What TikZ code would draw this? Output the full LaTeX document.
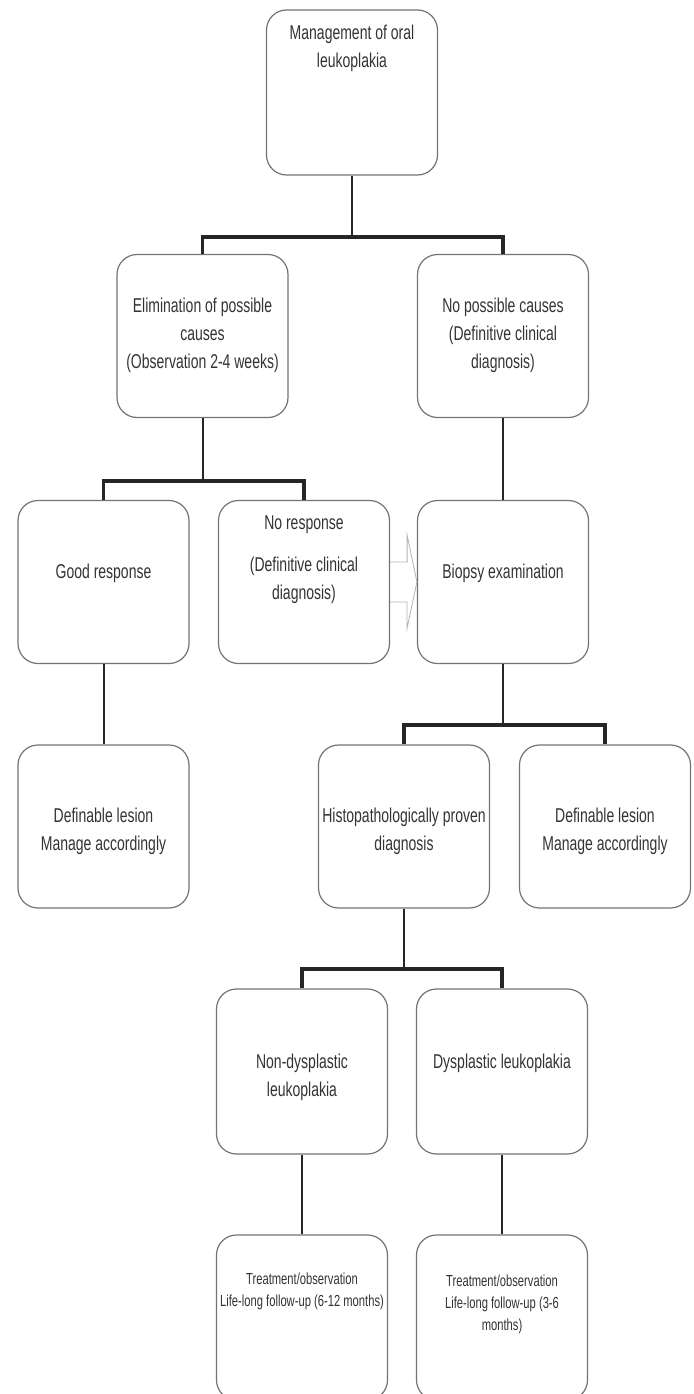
\documentclass[tikz,border=0pt]{standalone}
\usepackage{fontspec}
\setmainfont{Liberation Sans}[FakeStretch=0.7]
\usetikzlibrary{calc}

\tikzset{
  box/.style={draw=black!55, line width=1.2pt, rounded corners=20pt,
    minimum width=171pt, minimum height=163pt, inner sep=0pt},
  txt/.style={text=black!80, align=center, inner sep=0pt,
    font=\fontsize{20}{28}\selectfont},
  smalltxt/.style={txt, font=\fontsize{16}{22}\selectfont},
  stem/.style={draw=black!85, line width=2pt},
  bar/.style={draw=black!85, line width=3.2pt},
  hollow/.style={draw=black!30, line width=0.8pt}
}

\begin{document}
\begin{tikzpicture}[x=1pt, y=-1pt]
		%%%%% START %%%%%
		\clip (0,0) rectangle (693,1394);

		% boxes
		\node[box, minimum height=165pt] (mgmt) at (352, 92.5) {};
		\node[box] (elim) at (202.5, 336) {};
		\node[box] (nocause) at (503, 336) {};

		\node[box] (good) at (103.5, 582) {};
		\node[box] (noresp) at (304, 582) {};
		\node[box] (biopsy) at (503, 582) {};

		\node[box] (def1) at (103.5, 826.5) {};
		\node[box] (histo) at (404, 826.5) {};
		\node[box] (def2) at (605, 826.5) {};

		\node[box, minimum height=165pt] (nondys) at (302, 1071.5) {};
		\node[box, minimum height=165pt] (dys) at (502, 1071.5) {};

		\node[box, minimum height=165pt] (treat1) at (302, 1317.5) {};
		\node[box, minimum height=165pt] (treat2) at (502, 1317.5) {};

		% texts
		\node[txt] (mgmt-t) at (352, 48) {Management of oral\\leukoplakia};
		\node[txt] (elim-t) at (202.5, 335) {Elimination of possible\\causes\\(Observation 2-4 weeks)};
		\node[txt] (nocause-t) at (503, 335) {No possible causes\\(Definitive clinical\\diagnosis)};
		\node[txt] (good-t) at (103.5, 573) {Good response};
		\node[txt] (noresp-t) at (304, 560) {No response\\[14pt](Definitive clinical\\diagnosis)};
		\node[txt] (biopsy-t) at (503, 573) {Biopsy examination};
		\node[txt] (def1-t) at (103.5, 831) {Definable lesion\\Manage accordingly};
		\node[txt] (histo-t) at (404, 831) {Histopathologically proven\\diagnosis};
		\node[txt] (def2-t) at (605, 831) {Definable lesion\\Manage accordingly};
		\node[txt] (nondys-t) at (302, 1077.5) {Non-dysplastic\\leukoplakia};
		\node[txt] (dys-t) at (502, 1063) {Dysplastic leukoplakia};
		\node[smalltxt] (treat1-t) at (302, 1291) {Treatment/observation\\Life-long follow-up (6-12 months)};
		\node[smalltxt] (treat2-t) at (502, 1304) {Treatment/observation\\Life-long follow-up (3-6\\months)};

		% junctions
		\coordinate (j1) at (352, 237);
		\coordinate (j2) at (202.5, 481);
		\coordinate (j3) at (503, 725);
		\coordinate (j4) at (404, 969);

		% connectors
		\draw[stem] (mgmt.south) -- (j1);
		\draw[bar] (elim.north) |- (j1) -| (nocause.north);

		\draw[stem] (elim.south) -- (j2);
		\draw[bar] (good.north) |- (j2) -| (noresp.north);

		\draw[stem] (nocause.south) -- (biopsy.north);
		\draw[stem] (good.south) -- (def1.north);

		\draw[stem] (biopsy.south) -- (j3);
		\draw[bar] (histo.north) |- (j3) -| (def2.north);

		\draw[stem] (histo.south) -- (j4);
		\draw[bar] (nondys.north) |- (j4) -| (dys.north);

		\draw[stem] (nondys.south) -- (treat1.north);
		\draw[stem] (dys.south) -- (treat2.north);

		% hollow arrow
		\draw[hollow] ([yshift=20pt]noresp.east) -- ++(17,0) -- ++(0,-27)
			-- (biopsy.west) -- ++(-10,47) -- ++(0,-27) -- ([yshift=-20pt]noresp.east);

		%%%%% END %%%%%
\end{tikzpicture}
\end{document}
